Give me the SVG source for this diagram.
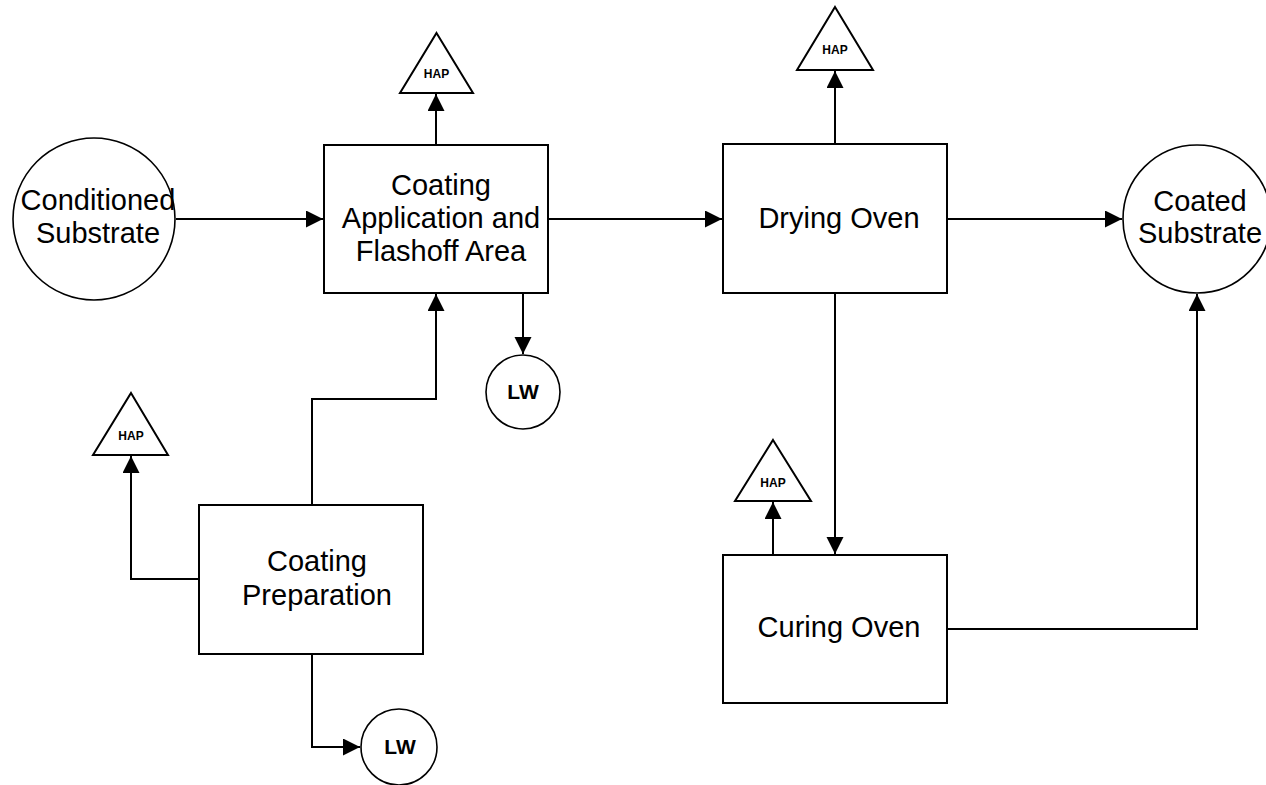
<svg xmlns="http://www.w3.org/2000/svg" width="1266" height="785" viewBox="0 0 1266 785">
<style>
.shape{fill:#fff;stroke:#000;stroke-width:2}
.circ{fill:#fff;stroke:#000;stroke-width:1.6}
.line{fill:none;stroke:#000;stroke-width:2}
.lbl{font-family:"Liberation Sans",Arial,sans-serif;font-size:29px;fill:#000;text-anchor:middle}
.hap{font-family:"Liberation Sans",Arial,sans-serif;font-size:12px;font-weight:bold;fill:#000;text-anchor:middle}
.lw{font-family:"Liberation Sans",Arial,sans-serif;font-size:21px;font-weight:bold;fill:#000;text-anchor:middle}
</style>
<defs>
<marker id="arr" markerUnits="userSpaceOnUse" markerWidth="18" markerHeight="18" refX="17" refY="8.5" orient="auto">
<path d="M0,0 L17,8.5 L0,17 z" fill="#000"/>
</marker>
</defs>
<rect width="1266" height="785" fill="#fff"/>
<g id="connectors">
<line class="line" x1="176" y1="219" x2="323" y2="219" marker-end="url(#arr)"/>
<line class="line" x1="548" y1="219" x2="722" y2="219" marker-end="url(#arr)"/>
<line class="line" x1="947" y1="219" x2="1122" y2="219" marker-end="url(#arr)"/>
<line class="line" x1="436" y1="145" x2="436" y2="94" marker-end="url(#arr)"/>
<line class="line" x1="523" y1="293" x2="523" y2="354" marker-end="url(#arr)"/>
<polyline class="line" points="312,505 312,399 436,399 436,294" marker-end="url(#arr)"/>
<polyline class="line" points="199,579 131,579 131,456" marker-end="url(#arr)"/>
<polyline class="line" points="312,654 312,747 360,747" marker-end="url(#arr)"/>
<line class="line" x1="835" y1="144" x2="835" y2="71" marker-end="url(#arr)"/>
<line class="line" x1="835" y1="293" x2="835" y2="554" marker-end="url(#arr)"/>
<line class="line" x1="773" y1="555" x2="773" y2="502" marker-end="url(#arr)"/>
<polyline class="line" points="947,629 1197,629 1197,294" marker-end="url(#arr)"/>
</g>
<g id="conditioned-substrate">
<circle class="circ" cx="94" cy="219" r="81"/>
<text class="lbl" x="98" y="210">Conditioned</text>
<text class="lbl" x="98" y="243">Substrate</text>
</g>
<g id="coating-application">
<rect class="shape" x="324" y="145" width="224" height="148"/>
<text class="lbl" x="441" y="195">Coating</text>
<text class="lbl" x="441" y="228">Application and</text>
<text class="lbl" x="441" y="261">Flashoff Area</text>
</g>
<g id="hap-1">
<polygon class="shape" points="436.5,33 473,93 400,93"/>
<text class="hap" x="436.5" y="78">HAP</text>
</g>
<g id="lw-1">
<circle class="circ" cx="523" cy="392" r="37"/>
<text class="lw" x="523" y="399">LW</text>
</g>
<g id="drying-oven">
<rect class="shape" x="723" y="144" width="224" height="149"/>
<text class="lbl" x="839" y="228">Drying Oven</text>
</g>
<g id="hap-2">
<polygon class="shape" points="835,7 873,70 797,70"/>
<text class="hap" x="835" y="54">HAP</text>
</g>
<g id="coated-substrate">
<circle class="circ" cx="1197" cy="219" r="74"/>
<text class="lbl" x="1200" y="211">Coated</text>
<text class="lbl" x="1200" y="243">Substrate</text>
</g>
<g id="coating-preparation">
<rect class="shape" x="199" y="505" width="224" height="149"/>
<text class="lbl" x="317" y="571">Coating</text>
<text class="lbl" x="317" y="605">Preparation</text>
</g>
<g id="hap-3">
<polygon class="shape" points="131,393 168,455 93,455"/>
<text class="hap" x="131" y="440">HAP</text>
</g>
<g id="lw-2">
<circle class="circ" cx="399" cy="747" r="38"/>
<text class="lw" x="400" y="754">LW</text>
</g>
<g id="curing-oven">
<rect class="shape" x="723" y="555" width="224" height="148"/>
<text class="lbl" x="839" y="637">Curing Oven</text>
</g>
<g id="hap-4">
<polygon class="shape" points="773,440 811,501 735,501"/>
<text class="hap" x="773" y="487">HAP</text>
</g>
</svg>
